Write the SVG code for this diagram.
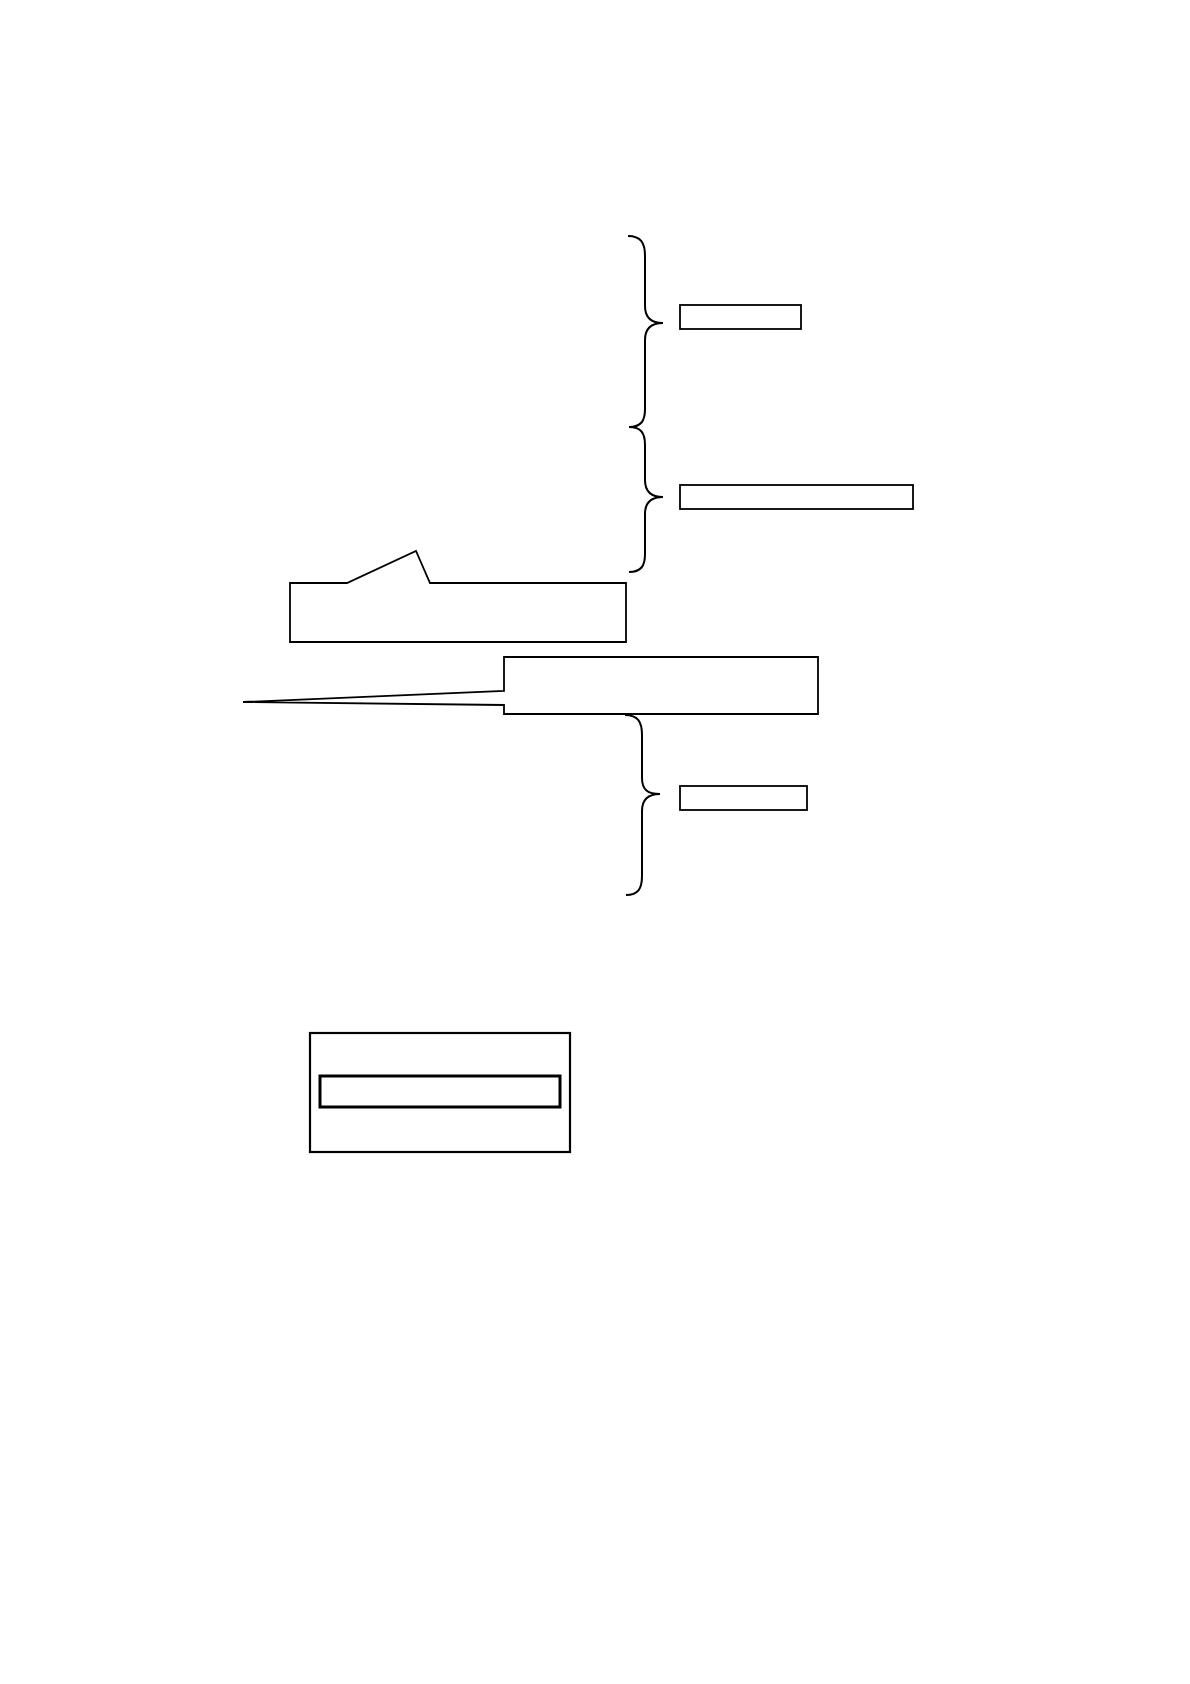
<svg xmlns="http://www.w3.org/2000/svg" width="1190" height="1684" viewBox="0 0 1190 1684">
<style>
.ln{fill:none;stroke:#000;stroke-width:2}
.bx{fill:#fff;stroke:#000;stroke-width:1.8}
.bold{fill:#fff;stroke:#000;stroke-width:3}
.outer{fill:#fff;stroke:#000;stroke-width:2.2}
</style>
<rect width="1190" height="1684" fill="#fff"/>
<g id="connectors">
<path id="brace1" class="ln" d="M628,236 C641,236 645,243 645,256 L645,306 C645,318 651,323 663,323 C651,323 645,328 645,340 L645,409 C645,421 641,427 629,427"/>
<path id="brace2" class="ln" d="M629,427 C641,427 645,433 645,445 L645,480 C645,492 651,497 663,497 C651,497 645,502 645,514 L645,554 C645,566 641,572 629,572"/>
<path id="brace3" class="ln" d="M625,715 C638,715 642,722 642,735 L642,778 C642,790 648,794 660,794 C648,794 642,799 642,811 L642,876 C642,889 638,895 626,895"/>
</g>
<g id="box1"><rect class="bx" x="680" y="305" width="121" height="24"/></g>
<g id="box2"><rect class="bx" x="680" y="485" width="233" height="24"/></g>
<g id="callout1"><path class="bx" d="M290,583 L347,583 L416,551 L430,583 L626,583 L626,642 L290,642 Z"/></g>
<g id="callout2"><path class="bx" d="M504,657 L818,657 L818,714 L504,714 L504,705 L243,702 L504,691 Z"/></g>
<g id="box3"><rect class="bx" x="680" y="786" width="127" height="24"/></g>
<g id="box4">
<rect class="outer" x="310" y="1033" width="260" height="119"/>
<rect class="bold" x="320" y="1076" width="240" height="31"/>
</g>
</svg>
